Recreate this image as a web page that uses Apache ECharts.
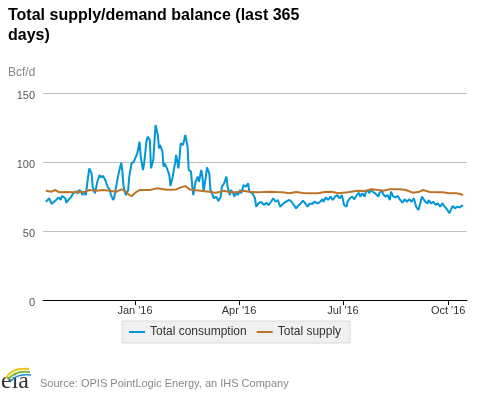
<!DOCTYPE html>
<html>
<head>
<meta charset="utf-8">
<script src="https://cdn.jsdelivr.net/npm/echarts@6/dist/echarts.min.js"></script>
<style>
html,body{margin:0;padding:0;background:#fff;}
#chart{width:477px;height:393px;}
</style>
</head>
<body>
<div id="chart"></div>
<script>
// ---- data ----
var consDates = [
'2015-10-15','2015-10-18','2015-10-20','2015-10-22','2015-10-24','2015-10-26','2015-10-28','2015-10-29',
'2015-11-01','2015-11-02','2015-11-04','2015-11-06','2015-11-08','2015-11-10','2015-11-12','2015-11-13',
'2015-11-15','2015-11-16','2015-11-17','2015-11-19','2015-11-21','2015-11-22','2015-11-24','2015-11-25',
'2015-11-27','2015-11-29','2015-12-01','2015-12-02','2015-12-04','2015-12-06','2015-12-07','2015-12-08',
'2015-12-10','2015-12-11','2015-12-13','2015-12-14','2015-12-16','2015-12-18','2015-12-20','2015-12-21',
'2015-12-22','2015-12-24','2015-12-26','2015-12-27','2015-12-29','2015-12-31','2016-01-01','2016-01-03',
'2016-01-05','2016-01-06','2016-01-08','2016-01-09','2016-01-11','2016-01-12','2016-01-14','2016-01-15',
'2016-01-17','2016-01-19','2016-01-21','2016-01-22','2016-01-23','2016-01-25','2016-01-26','2016-01-27',
'2016-01-29','2016-01-31','2016-02-01','2016-02-03','2016-02-05','2016-02-06','2016-02-08','2016-02-09',
'2016-02-10','2016-02-12','2016-02-13','2016-02-14','2016-02-16','2016-02-17','2016-02-19','2016-02-20',
'2016-02-21','2016-02-23','2016-02-25','2016-02-26','2016-02-28','2016-02-29','2016-03-01','2016-03-03',
'2016-03-04','2016-03-06','2016-03-07','2016-03-09','2016-03-10','2016-03-12','2016-03-14','2016-03-16',
'2016-03-17','2016-03-19','2016-03-21','2016-03-22','2016-03-24','2016-03-25','2016-03-27','2016-03-28',
'2016-03-30','2016-03-31','2016-04-02','2016-04-03','2016-04-05','2016-04-06','2016-04-07','2016-04-09',
'2016-04-10','2016-04-13','2016-04-15','2016-04-16','2016-04-18','2016-04-20','2016-04-23','2016-04-25',
'2016-04-27','2016-04-29','2016-05-01','2016-05-03','2016-05-05','2016-05-07','2016-05-08','2016-05-10',
'2016-05-12','2016-05-15','2016-05-17','2016-05-18','2016-05-21','2016-05-23','2016-05-25','2016-05-27',
'2016-05-29','2016-05-31','2016-06-02','2016-06-04','2016-06-06','2016-06-09','2016-06-11','2016-06-13',
'2016-06-14','2016-06-16','2016-06-18','2016-06-20','2016-06-22','2016-06-24','2016-06-26','2016-06-28',
'2016-06-30','2016-07-02','2016-07-04','2016-07-05','2016-07-07','2016-07-09','2016-07-11','2016-07-13',
'2016-07-15','2016-07-16','2016-07-18','2016-07-20','2016-07-21','2016-07-23','2016-07-24','2016-07-26',
'2016-07-27','2016-07-29','2016-07-30','2016-08-01','2016-08-02','2016-08-04','2016-08-05','2016-08-07',
'2016-08-09','2016-08-11','2016-08-12','2016-08-14','2016-08-16','2016-08-18','2016-08-20','2016-08-22',
'2016-08-24','2016-08-26','2016-08-28','2016-08-30','2016-09-01','2016-09-03','2016-09-05','2016-09-07',
'2016-09-08','2016-09-11','2016-09-13','2016-09-14','2016-09-16','2016-09-18','2016-09-20','2016-09-22',
'2016-09-24','2016-09-26','2016-09-28','2016-09-30','2016-10-02','2016-10-04','2016-10-05','2016-10-07',
'2016-10-09','2016-10-11','2016-10-12','2016-10-14'
];
var consValues = [
71.2,73.7,69.6,71.0,72.5,74.4,72.5,75.4,
73.7,70.5,72.9,74.4,77.3,78.5,77.3,79.7,
78.5,76.0,78.5,76.0,89.4,95.4,91.8,82.1,
77.3,85.7,90.6,88.9,89.9,87.0,85.7,82.1,
79.7,76.0,72.5,74.9,84.5,93.0,99.5,93.0,
82.1,76.0,79.7,89.4,99.0,100.2,99.0,106.3,
114.7,103.9,94.2,99.0,114.7,118.4,115.9,95.4,
101.4,126.8,119.6,109.9,112.3,107.5,96.6,99.0,
95.4,90.6,82.6,89.4,99.0,105.1,95.4,103.9,
113.5,112.3,115.9,119.6,111.1,94.2,93.0,83.3,
76.0,85.7,89.4,85.7,94.2,89.4,78.5,89.4,
96.1,91.8,79.7,76.0,73.7,74.9,71.8,74.9,
82.1,84.5,89.4,82.1,76.0,79.7,77.3,74.9,
78.5,76.0,79.7,77.3,83.3,84.5,82.1,84.5,
78.5,77.3,73.7,67.6,70.0,71.2,68.8,70.5,
68.8,71.2,73.7,71.2,72.5,67.6,66.4,70.0,
71.2,72.5,71.2,70.0,66.4,68.5,70.0,72.0,
70.0,67.6,70.0,69.6,71.2,70.0,71.2,73.0,
71.2,74.4,72.5,74.9,72.5,74.9,76.0,73.7,
76.0,68.8,67.6,71.2,73.7,74.9,73.0,76.0,
77.7,74.9,77.3,74.9,78.5,79.2,77.3,80.2,
78.5,77.3,76.0,74.9,77.7,79.7,76.8,74.9,
76.0,72.5,78.5,74.9,74.4,75.4,72.5,70.5,
73.0,71.2,73.0,71.2,73.7,67.6,65.2,71.2,
74.9,71.2,70.0,72.5,70.0,71.2,68.8,70.0,
67.6,70.0,67.6,65.7,62.8,66.4,68.1,66.4,
67.6,67.1,67.6,68.8
];
var supplyDates = [
'2015-10-15','2015-10-20','2015-10-23','2015-10-27','2015-11-02','2015-11-08','2015-11-11','2015-11-17',
'2015-11-22','2015-11-28','2015-12-04','2015-12-10','2015-12-16','2015-12-20','2015-12-23','2015-12-26',
'2015-12-29','2016-01-01','2016-01-03','2016-01-05','2016-01-14','2016-01-20','2016-01-29','2016-02-06',
'2016-02-10','2016-02-14','2016-02-18','2016-02-27','2016-03-06','2016-03-11','2016-03-14','2016-03-19',
'2016-03-24','2016-03-30','2016-04-05','2016-04-10','2016-04-16','2016-04-22','2016-04-28','2016-05-04',
'2016-05-09','2016-05-15','2016-05-21','2016-05-27','2016-05-31','2016-06-09','2016-06-15','2016-06-21',
'2016-06-27','2016-07-05','2016-07-14','2016-07-20','2016-07-26','2016-08-01','2016-08-05','2016-08-11',
'2016-08-20','2016-08-25','2016-08-31','2016-09-06','2016-09-09','2016-09-15','2016-09-21','2016-09-26',
'2016-10-02','2016-10-08','2016-10-12','2016-10-14'
];
var supplyValues = [
79.2,78.5,79.7,78.0,78.2,78.0,78.5,78.0,
79.7,79.2,79.7,79.2,78.5,80.2,79.2,76.8,
75.2,77.5,78.8,79.7,79.7,80.9,79.9,80.1,
81.6,82.6,80.0,79.2,78.5,77.8,78.0,79.2,
78.0,78.0,79.2,78.5,78.0,78.2,78.5,78.2,
78.0,77.3,78.2,77.5,77.3,77.3,78.3,78.5,
77.3,78.0,79.2,79.0,80.2,79.7,79.2,80.2,
80.2,79.7,77.8,78.5,79.7,78.3,78.0,78.0,
77.3,77.3,76.8,75.9
];
var tickDates = ['2016-01-01','2016-04-01','2016-07-01','2016-10-01'];
var tickLabels = ["Jan '16","Apr '16","Jul '16","Oct '16"];
var seriesNames = ['Total consumption', 'Total supply'];

function toTime(s){
  var p = s.split('-');
  return Date.UTC(+p[0], +p[1]-1, +p[2]);
}
function pairs(dates, vals){
  return dates.map(function(d,i){ return [toTime(d), vals[i]]; });
}
var tickTimes = tickDates.map(toTime);
var DAY = 86400000;

var chart = echarts.init(document.getElementById('chart'), null, {renderer:'canvas'});
var FONT = 'Arial, "Liberation Sans", sans-serif';
chart.setOption({
  animation: false,
  backgroundColor: '#ffffff',
  title: {
    text: 'Total supply/demand balance (last 365\ndays)',
    left: 8, top: 6, padding: 0,
    textStyle: {fontFamily: FONT, fontSize: 16, fontWeight: 'bold', color: '#000', lineHeight: 20}
  },
  grid: {left: 43, right: 10, top: 93, bottom: 93, containLabel: false},
  legend: {
    data: seriesNames,
    left: 122, top: 321,
    padding: [5, 9, 5, 7],
    itemGap: 10,
    itemWidth: 16, itemHeight: 2,
    icon: 'rect',
    backgroundColor: '#f0f0f0',
    borderColor: '#d9d9d9', borderWidth: 1,
    textStyle: {fontFamily: FONT, fontSize: 12, color: '#333'}
  },
  xAxis: {
    type: 'value',
    min: toTime('2015-10-12') + DAY / 2,
    max: toTime('2016-10-17') + DAY / 2,
    axisLine: {show: true, onZero: false, lineStyle: {color: '#000', width: 1}},
    axisTick: {show: true, length: 5, lineStyle: {color: '#000'}, customValues: tickTimes},
    axisLabel: {
      customValues: tickTimes,
      margin: 5,
      fontFamily: FONT, fontSize: 11, color: '#333',
      formatter: function(v){
        for (var i = 0; i < tickTimes.length; i++) {
          if (Math.abs(tickTimes[i] - v) < 3600000) return tickLabels[i];
        }
        return '';
      }
    },
    splitLine: {show: false}
  },
  yAxis: {
    type: 'value', min: 0, max: 150, interval: 50,
    axisLine: {show: false}, axisTick: {show: false},
    axisLabel: {margin: 8, fontFamily: FONT, fontSize: 11, color: '#555', verticalAlign: 'top', padding: [-3,0,0,0]},
    splitLine: {lineStyle: {color: '#c0c0c0', width: 1}}
  },
  series: [
    {name: seriesNames[0], type: 'line', showSymbol: false, symbol: 'none',
     data: pairs(consDates, consValues),
     lineStyle: {color: '#0096d7', width: 2}, itemStyle: {color: '#0096d7'}},
    {name: seriesNames[1], type: 'line', showSymbol: false, symbol: 'none',
     data: pairs(supplyDates, supplyValues),
     lineStyle: {color: '#bd732a', width: 2}, itemStyle: {color: '#bd732a'}}
  ],
  graphic: [
    {type: 'text', left: 8, top: 67, style: {text: 'Bcf/d', font: '12px ' + FONT, fill: '#888'}},
    {type: 'text', left: 40, top: 378, style: {text: 'Source: OPIS PointLogic Energy, an IHS Company', font: '11px ' + FONT, fill: '#888'}},
    {type: 'text', left: 1, top: 370, style: {text: 'eia', font: '24px "Liberation Serif", "DejaVu Serif", serif', fill: '#333'}},
    {type: 'bezierCurve', shape: {x1: 6, y1: 378, cpx1: 12, cpy1: 367, x2: 29, y2: 369}, style: {stroke: '#f2c21b', lineWidth: 2, fill: null}},
    {type: 'bezierCurve', shape: {x1: 8, y1: 380, cpx1: 14, cpy1: 370, x2: 30, y2: 372}, style: {stroke: '#7cb940', lineWidth: 2, fill: null}},
    {type: 'bezierCurve', shape: {x1: 10, y1: 382, cpx1: 16, cpy1: 373, x2: 31, y2: 375}, style: {stroke: '#1f8dd0', lineWidth: 1.5, fill: null}}
  ]
});
</script>
</body>
</html>
